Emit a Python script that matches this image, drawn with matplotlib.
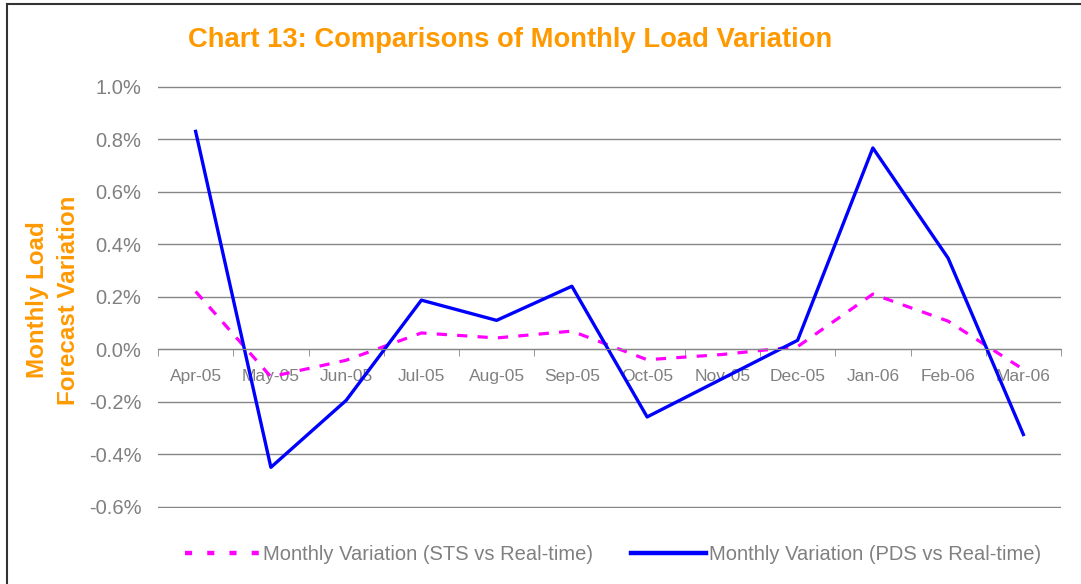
# Chart 13: monthly load variation, STS and PDS forecasts against real-time load.
import numpy as np
import matplotlib as mpl; mpl.use('Agg')
import matplotlib.pyplot as plt
from matplotlib.lines import Line2D
from matplotlib.ticker import FuncFormatter

mpl.rcParams.update({'font.family': ['Liberation Sans', 'DejaVu Sans']})

months = ['Apr-05', 'May-05', 'Jun-05', 'Jul-05', 'Aug-05', 'Sep-05',
          'Oct-05', 'Nov-05', 'Dec-05', 'Jan-06', 'Feb-06', 'Mar-06']
sts = [0.22, -0.105, -0.042, 0.062, 0.043, 0.069, -0.040, -0.020, 0.010, 0.210, 0.107, -0.077]
pds = [0.83, -0.45, -0.195, 0.187, 0.110, 0.240, -0.258, -0.112, 0.034, 0.767, 0.347, -0.325]
yticks = [-0.6, -0.4, -0.2, 0.0, 0.2, 0.4, 0.6, 0.8, 1.0]
labels = ['Monthly Variation (STS vs Real-time)', 'Monthly Variation (PDS vs Real-time)']

ORG = '#FF9900'; GRY = '#808080'; GRID = '#868686'; MAG = '#FF00FF'; BLU = '#0000FF'

fig = plt.figure(figsize=(10.81, 5.84), dpi=100)
ax = fig.add_axes([158/1081, 1-508/584, (1061-158)/1081, (508-86)/584])

x = np.arange(len(months))
ax.plot(x, sts, color=MAG, lw=2.3, ls=(0, (3.2, 3.2)))
ax.plot(x, pds, color=BLU, lw=2.4)

ax.set_xlim(-0.5, len(months)-0.5)
ax.set_ylim(-0.605, 1.003)
ax.set_yticks(yticks)
ax.yaxis.set_major_formatter(FuncFormatter(lambda v, p: f'{v:.1f}%'))
ax.tick_params(axis='y', length=0, pad=12, labelsize=14.5, labelcolor=GRY)
ax.grid(axis='y', color=GRID, lw=1.0)
ax.set_axisbelow(True)

for s in ['left', 'right', 'top']:
    ax.spines[s].set_visible(False)
ax.spines['bottom'].set_position(('data', 0))
ax.spines['bottom'].set_color(GRID)
ax.set_xticks(x)
ax.set_xticklabels(months)
ax.set_xticks(np.arange(len(months)+1)-0.5, minor=True)
ax.tick_params(axis='x', which='major', length=0, pad=14, labelsize=12.5, labelcolor=GRY)
ax.tick_params(axis='x', which='minor', length=5, color=GRID, direction='out')

fig.text(188/1081, 1-40/584, 'Chart 13: Comparisons of Monthly Load Variation',
         color=ORG, fontsize=19.7, fontweight='bold', va='center', ha='left')
fig.text(53/1081, 1-300/584, 'Monthly Load\nForecast Variation', color=ORG, fontsize=17.4,
         fontweight='bold', rotation=90, va='center', ha='center', linespacing=1.4)

handles = [Line2D([], [], color=MAG, lw=3.2, ls=(0, (1.6, 3.4))),
           Line2D([], [], color=BLU, lw=3.2)]
fig.legend(handles, labels, loc='center', bbox_to_anchor=(613/1081, 1-555/584), ncol=2,
           frameon=False, fontsize=14.5, labelcolor=GRY, handlelength=3.7,
           handletextpad=0.15, columnspacing=1.9)

# outer chart frame (left and top edges visible)
fig.add_artist(Line2D([7/1081, 7/1081], [0, 1-4/584], color='#333333', lw=1.5))
fig.add_artist(Line2D([7/1081, 1], [1-4/584, 1-4/584], color='#333333', lw=1.5))

fig.savefig('out.png', dpi=100)
